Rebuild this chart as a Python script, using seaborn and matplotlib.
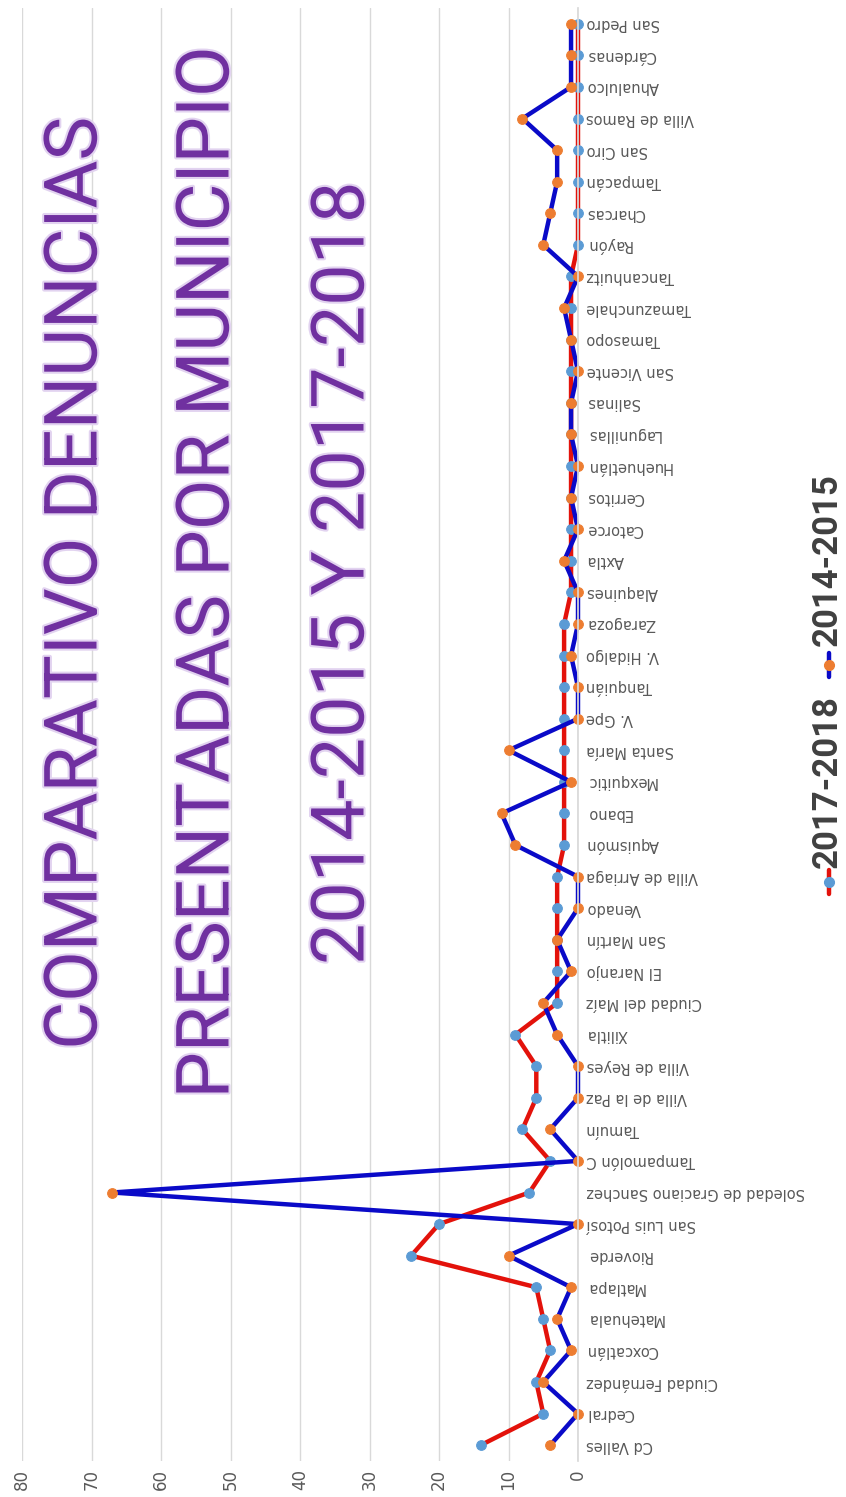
import matplotlib
matplotlib.use("Agg")
import matplotlib.pyplot as plt
import matplotlib.patheffects as pe
from matplotlib.lines import Line2D
import seaborn as sns
import pandas as pd

# datos (orden del eje de categorias, de abajo hacia arriba en la imagen)
municipios = [
    "Cd Valles", "Cedral", "Ciudad Fernández", "Coxcatlán", "Matehuala",
    "Matlapa", "Rioverde", "San Luis Potosí", "Soledad de Graciano Sanchez",
    "Tampamolón C", "Tamuín", "Villa de la Paz", "Villa de Reyes", "Xilitla",
    "Ciudad del Maíz", "El Naranjo", "San Martín", "Venado", "Villa de Arriaga",
    "Aquismón", "Ebano", "Mexquitic", "Santa María", "V. Gpe", "Tanquián",
    "V. Hidalgo", "Zaragoza", "Alaquines", "Axtla", "Catorce", "Cerritos",
    "Huehuetlán", "Lagunillas", "Salinas", "San Vicente", "Tamasopo",
    "Tamazunchale", "Tancanhuitz", "Rayón", "Charcas", "Tampacán", "San Ciro",
    "Villa de Ramos", "Ahualulco", "Cárdenas", "San Pedro",
]
den_2017_2018 = [14, 5, 6, 4, 5, 6, 24, 20, 7, 4, 8, 6, 6, 9, 3, 3, 3, 3, 3,
                 2, 2, 2, 2, 2, 2, 2, 2, 1, 1, 1, 1, 1, 1, 1, 1, 1, 1, 1,
                 0, 0, 0, 0, 0, 0, 0, 0]
den_2014_2015 = [4, 0, 5, 1, 3, 1, 10, 0, 67, 0, 4, 0, 0, 3, 5, 1, 3, 0, 0,
                 9, 11, 1, 10, 0, 0, 1, 0, 0, 2, 0, 1, 0, 1, 1, 0, 1, 2, 0,
                 5, 4, 3, 3, 8, 1, 1, 1]
ticks_valor = [0, 10, 20, 30, 40, 50, 60, 70, 80]
titulo = ["COMPARATIVO DENUNCIAS", "PRESENTADAS POR MUNICIPIO", "2014-2015 Y 2017-2018"]

sns.set_theme(style="white")
plt.rcParams['font.family'] = ['DejaVu Sans']

df = pd.DataFrame({
    "municipio": municipios,
    "pos": range(len(municipios)),
    "2017-2018": den_2017_2018,
    "2014-2015": den_2014_2015,
})

W, H = 846, 1497
fig = plt.figure(figsize=(W / 100, H / 100), dpi=100)
ax = fig.add_axes([22 / W, 1 - 1461 / H, (578 - 22) / W, (1461 - 8) / H])

rojo, azul = "#E3120B", "#0A0AC8"
naranja, celeste = "#ED7D31", "#5B9BD5"

sns.lineplot(data=df, x="2017-2018", y="pos", orient="y", sort=False, errorbar=None,
             color=rojo, lw=3.2, marker="o", markersize=7, clip_on=False,
             markerfacecolor=celeste, markeredgecolor=celeste, ax=ax)
sns.lineplot(data=df, x="2014-2015", y="pos", orient="y", sort=False, errorbar=None,
             color=azul, lw=3.2, marker="o", markersize=7, clip_on=False,
             markerfacecolor=naranja, markeredgecolor=naranja, ax=ax)

ax.set_xlim(80, 0)
ax.set_ylim(-0.5, len(municipios) - 0.5)
ax.set_xticks(ticks_valor)
ax.set_xticklabels([str(t) for t in ticks_valor], rotation=90, color="#595959", fontsize=12)
ax.yaxis.tick_right()
ax.set_yticks(range(len(municipios)))
ax.set_yticklabels(municipios, rotation=180, color="#595959", fontsize=10.5, va="center")
ax.tick_params(axis="both", length=0)
ax.tick_params(axis="x", pad=6)
ax.tick_params(axis="y", pad=6)
ax.set_xlabel("")
ax.set_ylabel("")
ax.grid(axis="x", color="#D9D9D9", lw=1)
ax.set_axisbelow(True)
for s in ["top", "bottom", "left"]:
    ax.spines[s].set_visible(False)
ax.spines["right"].set_color("#D9D9D9")

# titulo girado
for x_px, y_px, linea in zip([76, 208, 343], [583, 572, 573], titulo):
    fig.text(x_px / W, 1 - y_px / H, linea, rotation=90, ha="center", va="center",
             fontsize=53, color="#7030A0", family=["Roboto", "DejaVu Sans"],
             path_effects=[pe.withStroke(linewidth=3, foreground="#E2D3F0")])

# leyenda manual
for nombre, col, mk, y_txt, y_mk in [("2017-2018", rojo, celeste, 782, 882),
                                     ("2014-2015", azul, naranja, 560, 665)]:
    fig.text(827 / W, 1 - y_txt / H, nombre, rotation=90, ha="center", va="center",
             fontsize=25, fontweight="bold", color="#404040", family=["Roboto", "DejaVu Sans"])
    ys = [1 - (y_mk + 12) / H, 1 - y_mk / H, 1 - (y_mk - 12) / H]
    fig.add_artist(Line2D([829 / W] * 3, ys, transform=fig.transFigure, color=col,
                          lw=3.2, marker="o", markersize=7, markevery=[1],
                          markerfacecolor=mk, markeredgecolor=mk))

fig.savefig("out.png", dpi=100)
